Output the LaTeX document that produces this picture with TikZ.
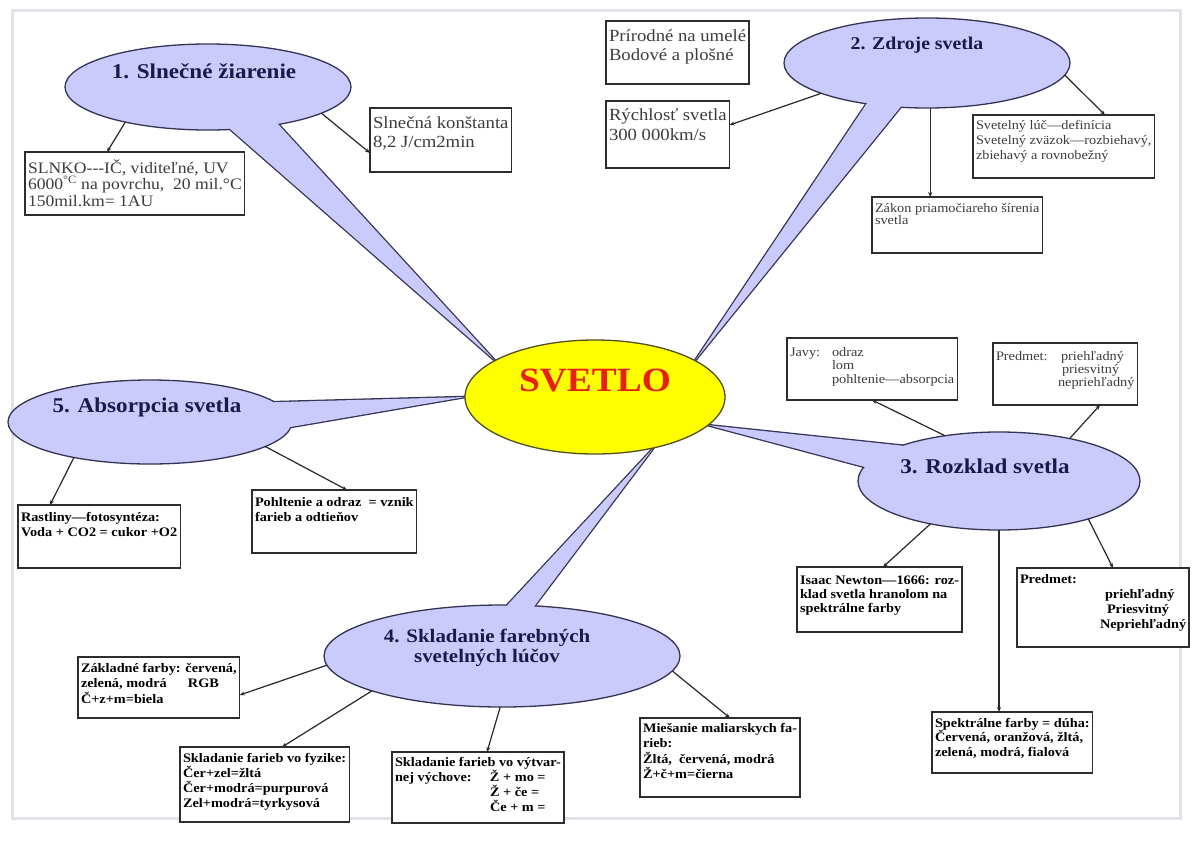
\documentclass[tikz,border=0pt]{standalone}
\usepackage{fontspec}
\setmainfont{Liberation Serif}[FakeStretch=1.1]
\usetikzlibrary{shapes.geometric,arrows.meta}
\pgfdeclarelayer{bg}\pgfdeclarelayer{mid}\pgfdeclarelayer{upper}
\pgfsetlayers{bg,mid,upper,main}
\definecolor{lav}{RGB}{202,202,252}
\definecolor{lavline}{RGB}{52,52,82}
\definecolor{headcol}{RGB}{26,26,72}
\definecolor{sunyel}{RGB}{255,255,0}
\definecolor{sunline}{RGB}{80,80,30}
\definecolor{svred}{RGB}{232,32,20}
\definecolor{boxline}{RGB}{45,45,45}
\definecolor{regtext}{RGB}{60,60,60}
\definecolor{conncol}{RGB}{40,40,40}
\definecolor{framecol}{RGB}{224,228,234}
\newcommand{\bxfirst}[2]{\hbox{\rule{0pt}{#1pt}#2}}
\newcommand{\bxline}[1]{\hbox{#1}}
\newcommand{\bxc}[4]{\parbox[t][#2pt][t]{#1pt}{\baselineskip=#3pt\lineskiplimit=-100pt\lineskip=0pt\relax #4}}
\newcommand{\fBig}{\fontsize{17}{19}\selectfont}
\newcommand{\fMid}{\fontsize{16}{16.5}\selectfont}
\newcommand{\fSm}{\fontsize{13}{15}\selectfont}
\newcommand{\fBd}{\fontsize{13}{15}\selectfont\bfseries}
\tikzset{
  lavell/.style={ellipse, draw=lavline, line width=1.3pt, fill=lav, inner sep=0pt, outer sep=0pt},
  wedgeline/.style={draw=lavline, line width=2.6pt, line join=round},
  wedgefill/.style={fill=lav},
  head/.style={text=headcol, align=center, inner sep=0pt},
  bx/.style={draw=boxline, line width=1.4pt, fill=white, anchor=north west, inner sep=3pt, outer sep=0pt},
  regbx/.style={bx, text=regtext},
  conn/.style={draw=conncol, line width=1.2pt, -{Stealth[length=5pt,width=4pt]}},
}
\begin{document}
\begin{tikzpicture}[x=1pt,y=-1pt]
\useasboundingbox (0,0) rectangle (1194,857);
\begin{pgfonlayer}{bg}
  \fill[white] (0,0) rectangle (1194,857);
  \draw[framecol, line width=3pt] (12,10) rectangle (1180,818);
\end{pgfonlayer}

% centre
\node[ellipse, draw=sunline, line width=1.3pt, fill=sunyel, minimum width=260pt, minimum height=114pt, inner sep=0pt, outer sep=0pt] (c) at (595,397) {};
\node[font=\fontsize{34}{36}\bfseries\selectfont, text=svred, inner sep=0pt] (ct) at ([yshift=17pt]c.center) {SVETLO};

% callout ellipses
\begin{pgfonlayer}{mid}
  \node[lavell, minimum width=286pt, minimum height=86pt] (e1) at (208,87) {};
  \node[lavell, minimum width=286pt, minimum height=90pt] (e2) at (927,63) {};
  \node[lavell, minimum width=282pt, minimum height=98pt] (e3) at (999,481) {};
  \node[lavell, minimum width=356pt, minimum height=102pt] (e4) at (502,656) {};
  \node[lavell, minimum width=284pt, minimum height=84pt] (e5) at (150,422) {};
\end{pgfonlayer}

\begin{pgfonlayer}{bg}
  \draw[wedgeline] (e1.center) -- (e1.-62) -- (c.160) -- (e1.-28) -- cycle;
  \draw[wedgeline] (e2.center) -- (e2.-146) -- (c.20) -- (e2.-121) -- cycle;
  \draw[wedgeline] (e3.center) -- (e3.160) -- (c.-14) -- (e3.174) -- cycle;
  \draw[wedgeline] (e4.center) -- (e4.84) -- (c.-41) -- (e4.57) -- cycle;
  \draw[wedgeline] (e5.center) -- (e5.9) -- (c.180) -- (e5.-2) -- cycle;
\end{pgfonlayer}
\begin{pgfonlayer}{upper}
  \fill[wedgefill] (e1.center) -- (e1.-62) -- (c.160) -- (e1.-28) -- cycle;
  \fill[wedgefill] (e2.center) -- (e2.-146) -- (c.20) -- (e2.-121) -- cycle;
  \fill[wedgefill] (e3.center) -- (e3.160) -- (c.-14) -- (e3.174) -- cycle;
  \fill[wedgefill] (e4.center) -- (e4.84) -- (c.-41) -- (e4.57) -- cycle;
  \fill[wedgefill] (e5.center) -- (e5.9) -- (c.180) -- (e5.-2) -- cycle;
\end{pgfonlayer}

% headings
\node[head, font=\fontsize{21}{23}\bfseries\selectfont] (t1) at (204,71) {1. Slnečné žiarenie};
\node[head, font=\fontsize{18}{20}\bfseries\selectfont] (t2) at (917,45) {2. Zdroje svetla};
\node[head, font=\fontsize{21}{23}\bfseries\selectfont] (t3) at (985,466) {3. Rozklad svetla};
\node[head, font=\fontsize{19}{20}\bfseries\selectfont] (t4) at (487,648) {4. Skladanie farebných\\svetelných lúčov};
\node[head, font=\fontsize{21}{23}\bfseries\selectfont] (t5) at (147,407) {5. Absorpcia svetla};

% boxes
\node[regbx, font=\fMid] (bA) at (25,152) {\bxc{219}{57}{16.5}{\bxfirst{18}{SLNKO-{}-{}-IČ, viditeľné, UV}\bxline{6000\textsuperscript{°C} na povrchu,\ \ 20 mil.°C}\bxline{150mil.km= 1AU}}};
\node[regbx, font=\fBig] (bB) at (370,108) {\bxc{176}{58}{19}{\bxfirst{17}{Slnečná konštanta}\bxline{8,2 J/cm2min}}};
\node[regbx, font=\fBig] (bC) at (606,21) {\bxc{176}{57}{19.5}{\bxfirst{17}{Prírodné na umelé}\bxline{Bodové a plošné}}};
\node[regbx, font=\fBig] (bD) at (606,101) {\bxc{176}{61}{20}{\bxfirst{16}{Rýchlosť svetla}\bxline{300 000km/s}}};
\node[regbx, font=\fSm] (bE) at (973,115) {\bxc{200}{57}{15}{\bxfirst{11}{Svetelný lúč—definícia}\bxline{Svetelný zväzok—rozbiehavý,}\bxline{zbiehavý a rovnobežný}}};
\node[regbx, font=\fSm] (bF) at (872,197) {\bxc{174}{50}{12.5}{\bxfirst{12}{Zákon priamočiareho šírenia}\bxline{svetla}}};
\node[regbx, font=\fSm] (bG) at (787,338) {\bxc{172}{56}{13.5}{\bxfirst{15}{\makebox[42pt][l]{Javy:}odraz}\bxline{\hskip42pt lom}\bxline{\hskip42pt pohltenie—absorpcia}}};
\node[regbx, font=\fSm] (bH) at (993,343) {\bxc{174}{56}{13}{\bxfirst{14}{\makebox[65pt][l]{Predmet:}priehľadný}\bxline{\hskip66pt priesvitný}\bxline{\hskip62pt nepriehľadný}}};
\node[bx, font=\fBd] (bI) at (18,505) {\bxc{174}{57}{15}{\bxfirst{13}{Rastliny—fotosyntéza:}\bxline{Voda + CO2 = cukor +O2}}};
\node[bx, font=\fBd] (bJ) at (252,490) {\bxc{174}{57}{15}{\bxfirst{13}{Pohltenie a odraz\ \ = vznik}\bxline{farieb a odtieňov}}};
\node[bx, font=\fBd] (bK) at (797,567) {\bxc{173}{59}{14}{\bxfirst{14}{Isaac Newton—1666: roz-}\bxline{klad svetla hranolom na}\bxline{spektrálne farby}}};
\node[bx, font=\fBd] (bL) at (1017,568) {\bxc{166}{73}{15}{\bxfirst{12}{Predmet:}\bxline{\hskip85pt priehľadný}\bxline{\hskip87pt Priesvitný}\bxline{\hskip80pt Nepriehľadný}}};
\node[bx, font=\fBd] (bM) at (932,712) {\bxc{174}{55}{14.5}{\bxfirst{12}{Spektrálne farby = dúha:}\bxline{Červená, oranžová, žltá,}\bxline{zelená, modrá, fialová}}};
\node[bx, font=\fBd] (bN) at (78,657) {\bxc{173}{55}{15.5}{\bxfirst{12}{Základné farby: červená,}\bxline{\makebox[107pt][l]{zelená, modrá}RGB}\bxline{Č+z+m=biela}}};
\node[bx, font=\fBd] (bO) at (180,747) {\bxc{174}{69}{15}{\bxfirst{12}{Skladanie farieb vo fyzike:}\bxline{Čer+zel=žltá}\bxline{Čer+modrá=purpurová}\bxline{Zel+modrá=tyrkysová}}};
\node[bx, font=\fBd] (bP) at (392,752) {\bxc{175}{65}{15}{\bxfirst{11}{Skladanie farieb vo výtvar-}\bxline{\makebox[95pt][l]{nej výchove:}Ž + mo =}\bxline{\hskip95pt Ž + če =}\bxline{\hskip95pt Če + m =}}};
\node[bx, font=\fBd] (bQ) at (640,718) {\bxc{158}{73}{15.5}{\bxfirst{11}{Miešanie maliarskych fa-}\bxline{rieb:}\bxline{Žltá,\ \ červená, modrá}\bxline{Ž+č+m=čierna}}};

% connectors
\draw[conn] (e1.-157) -- ([xshift=82pt]bA.north west);
\draw[conn] (e1.-13) -- ([yshift=-45pt]bB.north west);
\draw[conn] (e2.-164) -- ([yshift=-24pt]bD.north east);
\draw[conn] (e2.-5) -- ([xshift=132pt]bE.north west);
\draw[conn] (e2.-86) -- (bF.north -| e2.-86);
\draw[conn] (e3.140) -- ([xshift=85pt]bG.south west);
\draw[conn] (e3.31) -- ([xshift=107pt]bH.south west);
\draw[conn] (e3.-148) -- ([xshift=86pt]bK.north west);
\draw[conn] (e3.-23) -- ([xshift=96pt]bL.north west);
\draw[conn] (e3.south) -- (bM.north -| e3.south);
\draw[conn] (e5.-155) -- ([xshift=32pt]bI.north west);
\draw[conn] (e5.-12) -- ([xshift=95pt]bJ.north west);
\draw[conn] (e4.183) -- ([yshift=-38pt]bN.north east);
\draw[conn] (e4.195) -- ([xshift=102pt]bO.north west);
\draw[conn] (e4.-92) -- ([xshift=95pt]bP.north west);
\draw[conn] (e4.-5) -- ([xshift=90pt]bQ.north west);
\end{tikzpicture}
\end{document}
